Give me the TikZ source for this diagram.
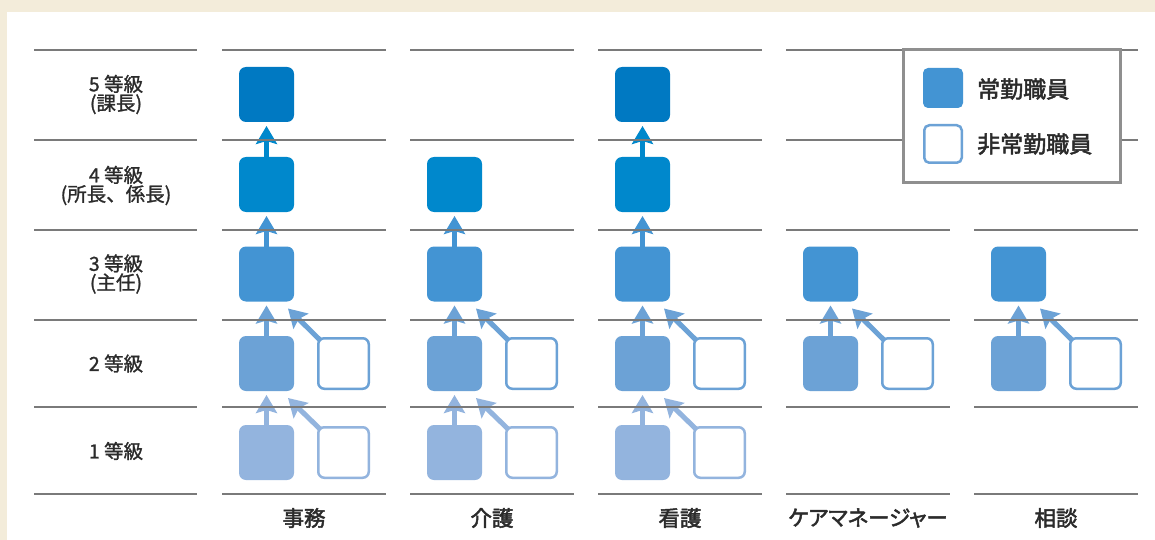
\documentclass[tikz,border=0pt]{standalone}
\usepackage{fontspec}
\setmainfont{Noto Sans CJK JP}
\newfontfamily\medfont{Noto Sans CJK JP}[FakeBold=2.2]
\newfontfamily\lightmedfont{Noto Sans CJK JP}[FakeBold=1.2]
\usetikzlibrary{arrows.meta,calc}
\definecolor{bgbeige}{HTML}{F3ECDA}
\definecolor{cfive}{HTML}{0079C2}
\definecolor{cfour}{HTML}{0088CC}
\definecolor{cthree}{HTML}{4394D3}
\definecolor{ctwo}{HTML}{6CA2D6}
\definecolor{cone}{HTML}{93B4DE}
\definecolor{gridgray}{HTML}{7A7A7A}
\definecolor{legendgray}{HTML}{8F8F8F}
\definecolor{txt}{HTML}{2B2B2B}
\pgfdeclarelayer{bglayer}
\pgfdeclarelayer{arrowlayer}
\pgfsetlayers{bglayer,arrowlayer,main}
\tikzset{
  filledbox/.style={rounded corners=7pt, minimum size=55pt, inner sep=0pt, draw=none, outer sep=0pt},
  fone/.style={filledbox, fill=cone},
  ftwo/.style={filledbox, fill=ctwo},
  fthree/.style={filledbox, fill=cthree},
  ffour/.style={filledbox, fill=cfour},
  ffive/.style={filledbox, fill=cfive},
  outlbox/.style={rounded corners=6pt, minimum size=50.5pt, inner sep=0pt, line width=2.5pt, fill=white, outer sep=0pt},
  oone/.style={outlbox, draw=cone},
  otwo/.style={outlbox, draw=ctwo},
  uparrow/.style={line width=5pt, draw=#1, -{Stealth[width=21pt,length=18pt,inset=3pt]}},
  gridline/.style={draw=gridgray, line width=1.8pt},
  rowlabel/.style={font=\lightmedfont\fontsize{19.5}{19}\selectfont, align=center, text=txt, inner sep=0pt},
  collabel/.style={font=\medfont\fontsize{21.5}{22}\selectfont, text=txt, inner sep=0pt},
  legendtext/.style={font=\medfont\fontsize{23}{24}\selectfont, text=txt, inner sep=0pt, anchor=west},
}
\begin{document}
\begin{tikzpicture}[x=1pt,y=-1pt]
\useasboundingbox (0,0) rectangle (1155,540);
\begin{pgfonlayer}{bglayer}
\fill[bgbeige] (0,0) rectangle (1155,540);
\fill[white] (7,12) rectangle (1155,540);
\end{pgfonlayer}

% grid lines
\foreach \yy in {50,140,230,320,407,494}{
  \draw[gridline] (34,\yy) -- (197,\yy);
  \foreach \s in {222,410,598,786,974}{
    \draw[gridline] (\s,\yy) -- ({\s+164},\yy);
  }
}

% row labels
\node[rowlabel] (l5) at (116,94.5) {5 等級\\(課長)};
\node[rowlabel] (l4) at (116,185.5) {4 等級\\(所長、係長)};
\node[rowlabel] (l3) at (116,274) {3 等級\\(主任)};
\node[rowlabel] (l2) at (116,363.5) {2 等級};
\node[rowlabel] (l1) at (116,451) {1 等級};

% column 1: 事務
\node[fone] (a1) at (266.5,452.5) {};
\node[ftwo] (a2) at (266.5,363.5) {};
\node[fthree] (a3) at (266.5,274) {};
\node[ffour] (a4) at (266.5,184.5) {};
\node[ffive] (a5) at (266.5,94.5) {};
\node[oone] (ao1) at (343.5,452.5) {};
\node[otwo] (ao2) at (343.5,363.5) {};
% column 2: 介護
\node[fone] (b1) at (454.5,452.5) {};
\node[ftwo] (b2) at (454.5,363.5) {};
\node[fthree] (b3) at (454.5,274) {};
\node[ffour] (b4) at (454.5,184.5) {};
\node[oone] (bo1) at (531.5,452.5) {};
\node[otwo] (bo2) at (531.5,363.5) {};
% column 3: 看護
\node[fone] (c1) at (642.5,452.5) {};
\node[ftwo] (c2) at (642.5,363.5) {};
\node[fthree] (c3) at (642.5,274) {};
\node[ffour] (c4) at (642.5,184.5) {};
\node[ffive] (c5) at (642.5,94.5) {};
\node[oone] (co1) at (719.5,452.5) {};
\node[otwo] (co2) at (719.5,363.5) {};
% column 4: ケアマネージャー
\node[ftwo] (d2) at (830.5,363.5) {};
\node[fthree] (d3) at (830.5,274) {};
\node[otwo] (do2) at (907.5,363.5) {};
% column 5: 相談
\node[ftwo] (e2) at (1018.5,363.5) {};
\node[fthree] (e3) at (1018.5,274) {};
\node[otwo] (eo2) at (1095.5,363.5) {};

% arrows
\begin{pgfonlayer}{arrowlayer}
\foreach \c in {a,b,c}{
  \draw[uparrow=cone] (\c1.north) -- ([yshift=-4pt]\c2.south);
  \draw[uparrow=cone] ([xshift=2pt,yshift=-2pt]\c o1.north west) -- ([xshift=-6pt,yshift=-7pt]\c2.south east);
}
\foreach \c in {a,b,c,d,e}{
  \draw[uparrow=ctwo] (\c2.north) -- ([yshift=-4pt]\c3.south);
  \draw[uparrow=ctwo] ([xshift=2pt,yshift=-2pt]\c o2.north west) -- ([xshift=-6pt,yshift=-7pt]\c3.south east);
}
\foreach \c in {a,b,c}{
  \draw[uparrow=cthree] (\c3.north) -- ([yshift=-4pt]\c4.south);
}
\foreach \c in {a,c}{
  \draw[uparrow=cfour] (\c4.north) -- ([yshift=-4pt]\c5.south);
}
\end{pgfonlayer}

% column labels
\node[collabel] (ka) at (304,518) {事務};
\node[collabel] (kb) at (492,518) {介護};
\node[collabel] (kc) at (680,518) {看護};
\node[collabel] (kd) at (868,518) {\addfontfeatures{RawFeature=+palt}ケアマネージャー};
\node[collabel] (ke) at (1056,518) {相談};

% legend
\node[draw=legendgray, line width=3pt, fill=white, minimum width=217pt, minimum height=133pt, inner sep=0pt] (legend) at (1012,116) {};
\node[filledbox, fill=cthree, minimum size=40pt, rounded corners=5pt] (lgf) at (943,88) {};
\node[outlbox, draw=ctwo, minimum size=37.5pt, rounded corners=5pt] (lgo) at (943,144) {};
\node[legendtext] (lgft) at (977,89) {常勤職員};
\node[legendtext] (lgot) at (977,144) {非常勤職員};
\end{tikzpicture}
\end{document}
